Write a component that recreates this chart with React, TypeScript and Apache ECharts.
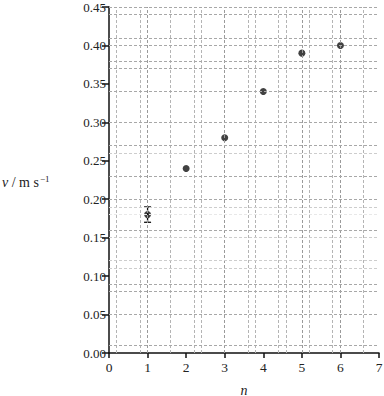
import React, { useEffect, useRef } from "react";
import * as echarts from "echarts";

const nValues = [1, 2, 3, 4, 5, 6];
const vValues = [0.18, 0.24, 0.28, 0.34, 0.39, 0.4];
const errN = [1];
const errLow = [0.17];
const errHigh = [0.19];
const xGridDark = [1.0, 3.0, 5.0, 6.0];
const xGridLight = [0.2, 0.8, 1.6, 2.2, 2.4, 3.6, 3.8, 4.4, 4.6, 5.2, 5.8, 6.6];
const yGridDark = [0.45, 0.44, 0.41, 0.4, 0.38, 0.37, 0.34, 0.3, 0.27, 0.23, 0.2, 0.16, 0.09, 0.08, 0.05, 0.01];
const yGridLight = [0.26, 0.19, 0.15, 0.12, 0.11];
const yGridFaint = [0.18];

const FONT = "Liberation Serif";

export default function App() {
  const ref = useRef<HTMLDivElement>(null);
  useEffect(() => {
    if (!ref.current) return;
    const chart = echarts.init(ref.current, undefined, { renderer: "svg" });
    const dash = (color: string) => ({ color, width: 1, type: [3, 2] as any });
    const markData: any[] = [
      ...xGridLight.map((v) => ({ xAxis: v, lineStyle: dash("#b4b4b4") })),
      ...xGridDark.map((v) => ({ xAxis: v, lineStyle: dash("#9a9a9a") })),
      ...yGridDark.map((v) => ({ yAxis: v, lineStyle: dash("#a8a8a8") })),
      ...yGridLight.map((v) => ({ yAxis: v, lineStyle: dash("#cdcdcd") })),
      ...yGridFaint.map((v) => ({ yAxis: v, lineStyle: dash("#e8e8e8") })),
    ];
    chart.setOption({
      animation: false,
      textStyle: { fontFamily: FONT },
      grid: { left: 109, right: 5, top: 7, bottom: 43, containLabel: false, outerBoundsMode: "none" },
      xAxis: {
        type: "value",
        min: 0,
        max: 7,
        interval: 1,
        axisLine: { show: true, lineStyle: { color: "#111", width: 1.5 } },
        axisTick: { show: true, length: 5, lineStyle: { color: "#111", width: 1.5 } },
        axisLabel: { color: "#222", fontSize: 13.5, fontFamily: FONT, margin: 7 },
        splitLine: { show: false },
        name: "n",
        nameLocation: "middle",
        nameGap: 30,
        nameTextStyle: { color: "#222", fontSize: 14, fontStyle: "italic", fontFamily: FONT },
      },
      yAxis: {
        type: "value",
        min: 0,
        max: 0.45,
        interval: 0.05,
        axisLine: { show: true, lineStyle: { color: "#111", width: 1.5 } },
        axisTick: { show: true, length: 7, lineStyle: { color: "#111", width: 1.5 } },
        axisLabel: {
          color: "#222",
          fontSize: 13,
          fontFamily: FONT,
          margin: 3,
          formatter: (v: number) => v.toFixed(2),
        },
        splitLine: { show: false },
      },
      graphic: [
        {
          type: "text",
          left: 2,
          top: 174,
          style: {
            text: "{i|v} / m s{s|−1}",
            rich: {
              i: { fontStyle: "italic", fontSize: 14, fontFamily: FONT, fill: "#222" },
              s: { fontSize: 9, fontFamily: FONT, fill: "#222", verticalAlign: "top", padding: [0, 0, 8, 1] },
            },
            fontSize: 14,
            fontFamily: FONT,
            fill: "#222",
          },
        },
      ],
      series: [
        {
          type: "scatter",
          data: [],
          z: 1,
          silent: true,
          markLine: {
            silent: true,
            symbol: "none",
            label: { show: false },
            animation: false,
            data: markData,
          },
        },
        {
          type: "custom",
          z: 3,
          data: errN.map((n, i) => [n, errLow[i], errHigh[i]]),
          renderItem: (params: any, api: any) => {
            const x = api.value(0);
            const lo = api.coord([x, api.value(1)]);
            const hi = api.coord([x, api.value(2)]);
            const w = 3.5;
            const style = { stroke: "#111", lineWidth: 1.3 };
            return {
              type: "group",
              children: [
                { type: "line", shape: { x1: lo[0], y1: lo[1], x2: hi[0], y2: hi[1] }, style },
                { type: "line", shape: { x1: lo[0] - w, y1: lo[1], x2: lo[0] + w, y2: lo[1] }, style },
                { type: "line", shape: { x1: hi[0] - w, y1: hi[1], x2: hi[0] + w, y2: hi[1] }, style },
              ],
            };
          },
        },
        {
          type: "scatter",
          z: 4,
          symbol: "circle",
          symbolSize: 7,
          itemStyle: { color: "#111" },
          data: nValues.map((n, i) => [n, vValues[i]]),
        },
      ],
    });
    return () => chart.dispose();
  }, []);
  return (
    <div
      ref={ref}
      style={{ position: "fixed", left: 0, top: 0, width: 384, height: 396, background: "#fff" }}
    />
  );
}
